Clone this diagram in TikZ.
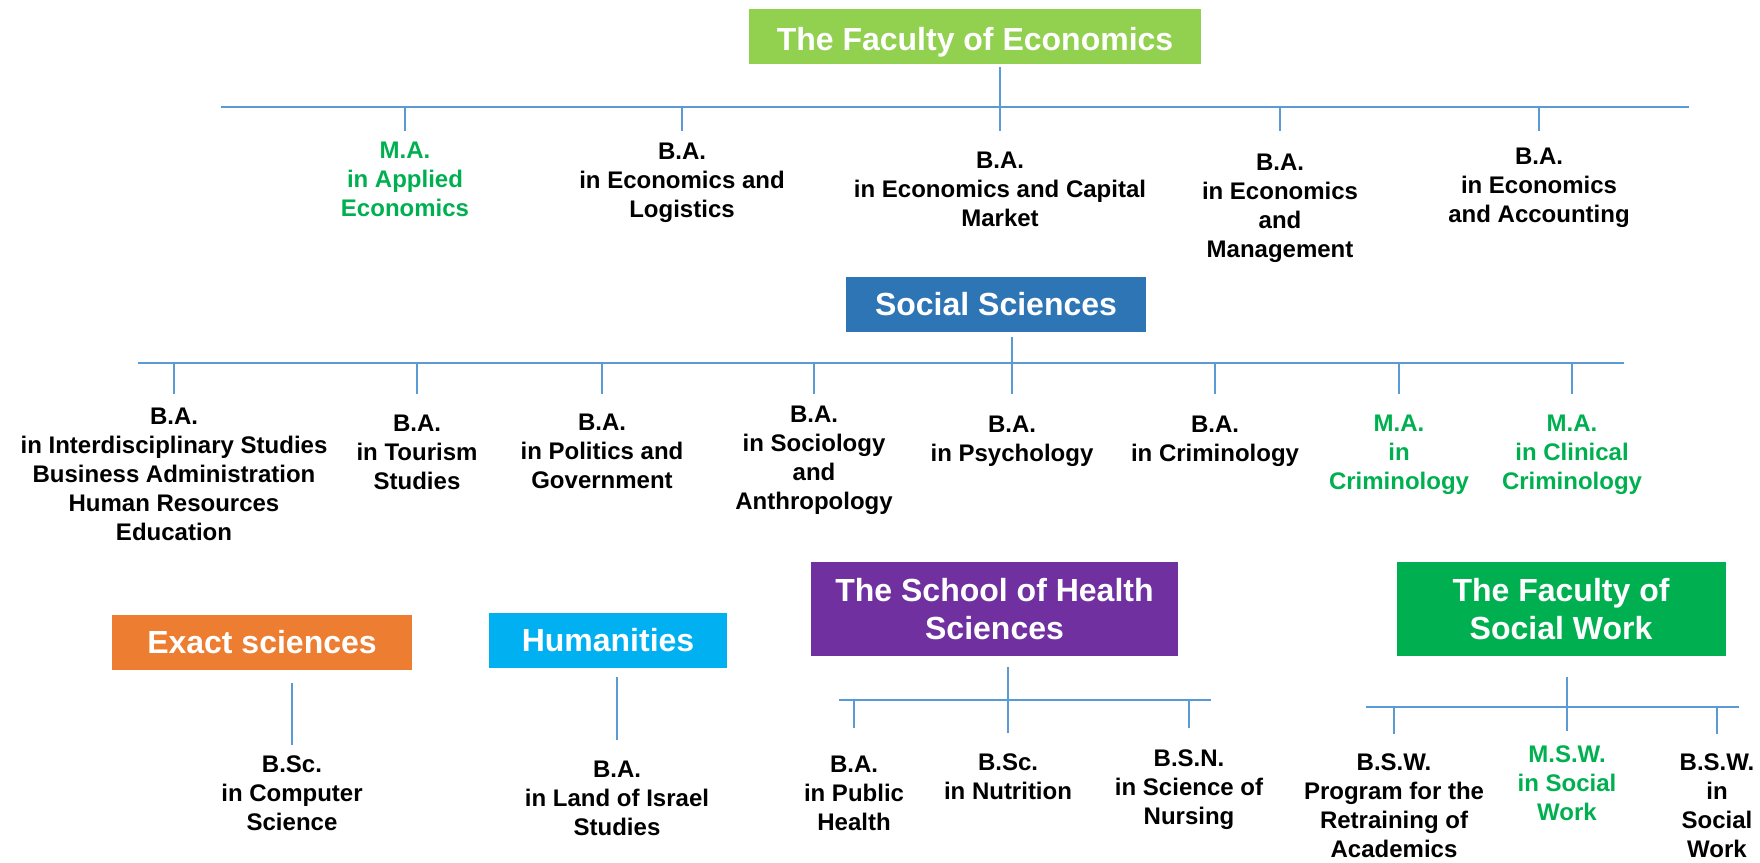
\documentclass[tikz,border=0pt]{standalone}
\usepackage{fontspec}
\setmainfont{Liberation Sans}
\usepackage{tikz}
\definecolor{econgreen}{HTML}{92D050}
\definecolor{socblue}{HTML}{2E75B6}
\definecolor{exactorange}{HTML}{ED7D31}
\definecolor{humcyan}{HTML}{00B0F0}
\definecolor{healthpurple}{HTML}{7030A0}
\definecolor{swgreen}{HTML}{00B050}
\definecolor{linkblue}{HTML}{5B9BD5}
\tikzset{
  fac/.style={text=white,font=\fontsize{16}{19}\selectfont\bfseries,align=center,inner sep=0pt,minimum height=27.5pt},
  deg/.style={font=\fontsize{12}{14.5}\selectfont\bfseries,align=center,inner sep=0pt},
  master/.style={deg,text=swgreen},
  link/.style={linkblue,line width=0.7pt},
  bar/.style={linkblue,line width=0.9pt}
}

\begin{document}
\begin{tikzpicture}[x=0.5pt,y=-0.5pt]
\useasboundingbox (0,0) rectangle (1760,862);
% faculties
\node[fac,fill=econgreen,minimum width=226pt] (econ) at (975,36.5) {\raisebox{-7pt}[0pt][0pt]{The Faculty of Economics}};
\node[fac,fill=socblue,minimum width=150pt] (social) at (996,304.5) {Social Sciences};
\node[fac,fill=exactorange,minimum width=150pt] (exact) at (262,642.5) {Exact sciences};
\node[fac,fill=humcyan,minimum width=119pt] (hum) at (608,640.5) {Humanities};
\node[fac,fill=healthpurple,minimum width=183.5pt,minimum height=47pt] (health) at (994.5,609) {The School of Health\\Sciences};
\node[fac,fill=swgreen,minimum width=164.5pt,minimum height=47pt] (socwork) at (1561,609) {The Faculty of\\Social Work};

% economics
\node[master] (ma1) at (405,179) {M.A.\\in Applied\\Economics};
\node[deg] (ba1) at (682,183) {B.A.\\in Economics and\\Logistics};
\node[deg] (ba2) at (1000,189) {B.A.\\in Economics and Capital\\Market};
\node[deg] (ba3) at (1280,208) {B.A.\\in Economics\\and\\Management};
\node[deg] (ba4) at (1539,188) {B.A.\\in Economics\\and Accounting};
\coordinate (ebarL) at (221,107); \coordinate (ebarR) at (1689,107);
\draw[bar] (ebarL) -- (ebarR);
\draw[link,shorten <=1.5pt] (ba2 |- econ.south) -- (ba2 |- ebarL);
\foreach \n in {ma1,ba1,ba2,ba3,ba4} \draw[link] (\n |- ebarL) -- ++(0,24);

% social sciences
\node[deg] (ss1) at (174,474) {B.A.\\in Interdisciplinary Studies\\Business Administration\\Human Resources\\Education};
\node[deg] (ss2) at (417,452) {B.A.\\in Tourism\\Studies};
\node[deg] (ss3) at (602,451) {B.A.\\in Politics and\\Government};
\node[deg] (ss4) at (814,460) {B.A.\\in Sociology\\and\\Anthropology};
\node[deg] (ss5) at (1012,441) {B.A.\\in Psychology};
\node[deg] (ss6) at (1215,441) {B.A.\\in Criminology};
\node[master] (ss7) at (1399,455) {M.A.\\in\\Criminology};
\node[master] (ss8) at (1572,455) {M.A.\\in Clinical\\Criminology};
\coordinate (sbarL) at (138,363); \coordinate (sbarR) at (1624,363);
\draw[bar] (sbarL) -- (sbarR);
\draw[link,shorten <=2.5pt] (ss5 |- social.south) -- (ss5 |- sbarL);
\foreach \n in {ss1,ss2,ss3,ss4,ss5,ss6,ss7,ss8} \draw[link] (\n |- sbarL) -- ++(0,31);

% exact sciences, humanities
\node[deg] (es1) at (292,793) {B.Sc.\\in Computer\\Science};
\node[deg] (hu1) at (617,798) {B.A.\\in Land of Israel\\Studies};
\draw[link,shorten <=6.5pt,shorten >=5pt] (es1 |- exact.south) -- (es1.north);
\draw[link,shorten <=4.5pt,shorten >=10pt] (hu1 |- hum.south) -- (hu1.north);

% health sciences
\node[deg] (hs1) at (854,793) {B.A.\\in Public\\Health};
\node[deg] (hs2) at (1008,777) {B.Sc.\\in Nutrition};
\node[deg] (hs3) at (1189,790) {B.S.N.\\in Science of\\Nursing};
\coordinate (hbarL) at (839,700); \coordinate (hbarR) at (1211,700);
\draw[bar] (hbarL) -- (hbarR);
\draw[link,shorten <=5.5pt] (hs2 |- health.south) -- (hs2 |- hbarL) -- ++(0,33);
\foreach \n in {hs1,hs3} \draw[link] (\n |- hbarL) -- ++(0,28);

% social work
\node[deg] (sw1) at (1394,806) {B.S.W.\\Program for the\\Retraining of\\Academics};
\node[master] (sw2) at (1567,783) {M.S.W.\\in Social\\Work};
\node[deg] (sw3) at (1717,806) {B.S.W.\\in\\Social\\Work};
\coordinate (wbarL) at (1366,707); \coordinate (wbarR) at (1739,707);
\draw[bar] (wbarL) -- (wbarR);
\draw[link,shorten <=10.5pt] (sw2 |- socwork.south) -- (sw2 |- wbarL) -- ++(0,24);
\foreach \n in {sw1,sw3} \draw[link] (\n |- wbarL) -- ++(0,27);
\end{tikzpicture}
\end{document}
